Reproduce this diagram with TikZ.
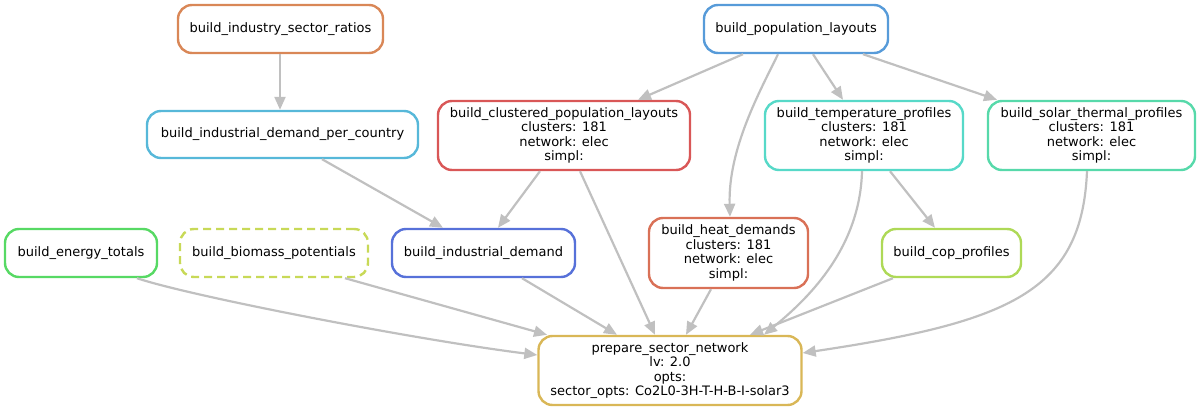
\documentclass[tikz,border=0pt]{standalone}
\usepackage{fontspec}
\setmainfont{DejaVu Sans}
\usetikzlibrary{arrows.meta}
\definecolor{cISR}{RGB}{217,135,87}
\definecolor{cPOP}{RGB}{87,155,217}
\definecolor{cIDPC}{RGB}{87,184,217}
\definecolor{cCPL}{RGB}{217,87,87}
\definecolor{cTEMP}{RGB}{87,217,200}
\definecolor{cSOL}{RGB}{87,217,170}
\definecolor{cET}{RGB}{87,217,100}
\definecolor{cBIO}{RGB}{200,217,87}
\definecolor{cIND}{RGB}{87,113,217}
\definecolor{cHEAT}{RGB}{217,113,87}
\definecolor{cCOP}{RGB}{174,217,87}
\definecolor{cPREP}{RGB}{217,183,87}
\definecolor{edgegray}{RGB}{192,192,192}
\begin{document}
\begin{tikzpicture}[x=1pt,y=-1pt,
  box/.style={draw, line width=2.4pt, rounded corners=14pt, inner sep=0pt,
    align=center, font=\fontsize{13}{14.5}\selectfont, text=black},
  edge/.style={draw=edgegray, line width=2.2pt, -{Triangle[length=13pt,width=11pt]}}]
\useasboundingbox (0,0) rectangle (1200,411);

\node[box, draw=cISR, minimum width=205pt, minimum height=48pt] (isr) at (280.5,29) {build\_industry\_sector\_ratios};
\node[box, draw=cPOP, minimum width=184pt, minimum height=48pt] (pop) at (796,29) {build\_population\_layouts};
\node[box, draw=cIDPC, minimum width=271pt, minimum height=47pt] (idpc) at (282.5,134.5) {build\_industrial\_demand\_per\_country};
\node[box, draw=cCPL, minimum width=252pt, minimum height=69pt] (cpl) at (564,135.5) {build\_clustered\_population\_layouts\\clusters: 181\\network: elec\\simpl:};
\node[box, draw=cTEMP, minimum width=198pt, minimum height=69pt] (temp) at (864,135.5) {build\_temperature\_profiles\\clusters: 181\\network: elec\\simpl:};
\node[box, draw=cSOL, minimum width=207pt, minimum height=69pt] (solar) at (1091.5,135.5) {build\_solar\_thermal\_profiles\\clusters: 181\\network: elec\\simpl:};
\node[box, draw=cET, minimum width=152pt, minimum height=48pt] (et) at (81,253) {build\_energy\_totals};
\node[box, draw=cBIO, dash pattern=on 8pt off 5pt, minimum width=188pt, minimum height=48pt] (bio) at (274,253) {build\_biomass\_potentials};
\node[box, draw=cIND, minimum width=183pt, minimum height=48pt] (ind) at (483.5,253) {build\_industrial\_demand};
\node[box, draw=cHEAT, minimum width=159pt, minimum height=70pt] (heat) at (728.5,253) {build\_heat\_demands\\clusters: 181\\network: elec\\simpl:};
\node[box, draw=cCOP, minimum width=139pt, minimum height=48pt] (cop) at (951.5,253) {build\_cop\_profiles};
\node[box, draw=cPREP, minimum width=263pt, minimum height=69pt] (prep) at (670,370.5) {prepare\_sector\_network\\lv: 2.0\\opts:\\sector\_opts: Co2L0-3H-T-H-B-I-solar3};

% edges
\draw[edge] ([xshift=-0.5pt]isr.south) -- ([xshift=-2.5pt]idpc.north);
\draw[edge] ([xshift=39.5pt]idpc.south) -- ([xshift=-40.5pt]ind.north);
\draw[edge] ([xshift=-53pt]pop.south) -- ([xshift=74pt]cpl.north);
\draw[edge] ([xshift=17pt]pop.south) -- ([xshift=-21pt]temp.north);
\draw[edge] ([xshift=67pt]pop.south) -- ([xshift=-94.5pt]solar.north);
\draw[edge] ([xshift=-18pt]pop.south) .. controls +(-18,37) and +(-2,-68) .. ([xshift=1.5pt]heat.north);
\draw[edge] ([xshift=-24pt]cpl.south) -- ([xshift=14.5pt]ind.north);
\draw[edge] ([xshift=16pt]cpl.south) -- ([xshift=-15pt]prep.north);
\draw[edge] ([xshift=26pt]temp.south) -- ([xshift=-16.5pt]cop.north);
\draw[edge] ([xshift=-2pt]temp.south) .. controls +(-2,80) and +(40,-33) .. ([xshift=94pt]prep.north);
\draw[edge] ([xshift=-4.5pt]solar.south) .. controls +(-5,120) and +(208,-31) .. ([yshift=17.5pt]prep.east);
\draw[edge] ([xshift=56pt]et.south) .. controls +(53,18) and +(-120,-15) .. ([yshift=15.5pt]prep.west);
\draw[edge] ([xshift=71pt]bio.south) -- ([xshift=-123pt]prep.north);
\draw[edge] ([xshift=38.5pt]ind.south) -- ([xshift=-53pt]prep.north);
\draw[edge] ([xshift=-17.5pt]heat.south) -- ([xshift=16pt]prep.north);
\draw[edge] ([xshift=-58.5pt]cop.south) -- ([xshift=80pt]prep.north);
\end{tikzpicture}
\end{document}
